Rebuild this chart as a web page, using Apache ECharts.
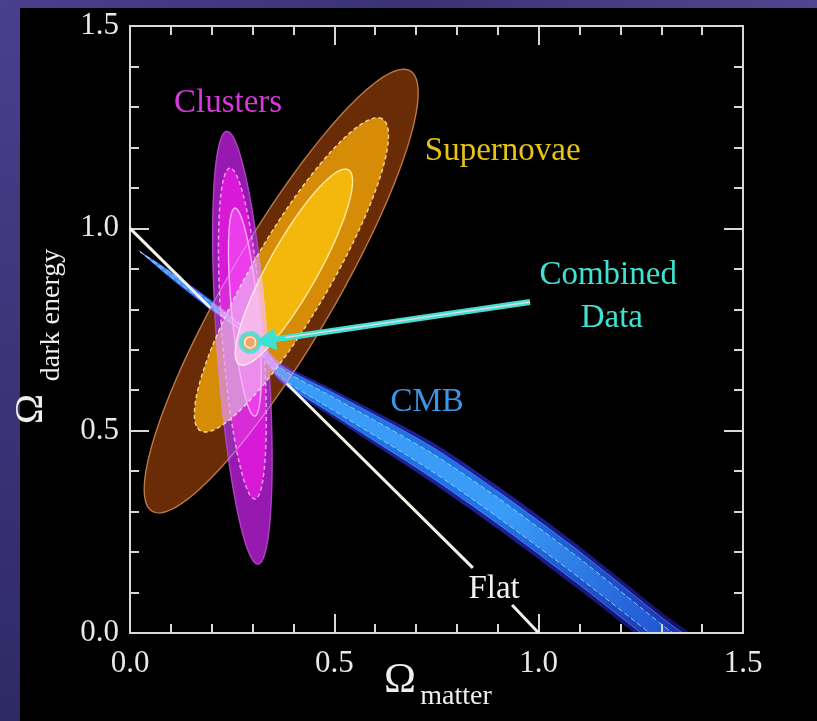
<!DOCTYPE html>
<html><head><meta charset="utf-8">
<script src="https://cdn.jsdelivr.net/npm/echarts@6/dist/echarts.min.js"></script>
<style>html,body{margin:0;padding:0;background:#000}#c{width:817px;height:721px}</style>
</head><body><div id="c"></div>
<script>
// ---- data (data units: Omega_matter, Omega_dark_energy) ----
const xTicks = [0.0, 0.5, 1.0, 1.5];
const yTicks = [0.0, 0.5, 1.0, 1.5];

// ellipse contours: [centerX, centerY, semiMajor, semiMinor, angleDeg]
const supernovaeContours = [
  [0.370, 0.845, 0.629, 0.131, 59.9],
  [0.395, 0.885, 0.445, 0.096, 60.0],
  [0.401, 0.904, 0.275, 0.061, 61.0]
];
const supernovaeFill   = ['#6a2c06', '#d68c06', '#f4b80c'];
const supernovaeStroke = ['#b87848', '#f8d890', '#ffe8a0'];

const clusterContours = [
  [0.275, 0.705, 0.536, 0.062, 94.1],
  [0.275, 0.740, 0.410, 0.050, 94.3],
  [0.281, 0.793, 0.258, 0.032, 95.4]
];
const clusterFill   = ['#961ab0', '#d816d8', '#ec3cec'];
const clusterStroke = ['#b040c0', '#f8a0f8', '#ffb0ff'];

// CMB band: centre line and vertical half-widths of three nested contours
const cmbX      = [0.024, 0.10, 0.20, 0.29, 0.367, 0.50, 0.734, 0.90, 1.10, 1.30, 1.45];
const cmbY      = [0.943, 0.885, 0.809, 0.738, 0.645, 0.565, 0.425, 0.310, 0.160, 0.000, -0.115];
const cmbOuter  = [0.000, 0.010, 0.014, 0.016, 0.025, 0.035, 0.050, 0.053, 0.054, 0.052, 0.046];
const cmbMiddle = [0.000, 0.007, 0.010, 0.011, 0.018, 0.027, 0.038, 0.040, 0.041, 0.039, 0.034];
const cmbInner  = [0.000, 0.004, 0.006, 0.007, 0.011, 0.016, 0.022, 0.024, 0.024, 0.022, 0.019];
const cmbFillBright = ['#1e1e96', '#1c74e4', '#3a9cf6'];
const cmbFillDark   = ['#14106e', '#1c34b0', '#2050d0'];

// flat universe line (hidden under the ellipses, broken around its label)
const flatSegments = [
  [[0, 1], [0.235, 0.765]],
  [[0.345, 0.655], [0.839, 0.161]],
  [[0.935, 0.069], [1, 0]]
];

// combined data point and arrow
const combinedPoint = [0.294, 0.718];
const arrowFrom = [0.979, 0.818];
const arrowTo   = [0.330, 0.722];

// text labels: [text, x, y, colour]
const labels = [
  ['Clusters',   0.240, 1.310, '#d43ad8'],
  ['Supernovae', 0.912, 1.190, '#e8c412'],
  ['Combined',   1.170, 0.884, '#3fe2d2'],
  ['Data',       1.179, 0.778, '#3fe2d2'],
  ['CMB',        0.727, 0.571, '#3a96e6'],
  ['Flat',       0.891, 0.109, '#f2f2f2']
];

// ---------------------------------------------------------------
const SERIF = '"Liberation Serif", "DejaVu Serif", serif';
const chart = echarts.init(document.getElementById('c'), null, {renderer: 'canvas'});

function ellipseRender(fills, strokes, dashes, blendName) {
  return function (params, api) {
    const cx = api.value(0), cy = api.value(1), a = api.value(2), b = api.value(3);
    const ang = api.value(4) * Math.PI / 180;
    const pts = [];
    const N = 160;
    for (let k = 0; k < N; k++) {
      const t = 2 * Math.PI * k / N;
      const dx = a * Math.cos(t), dy = b * Math.sin(t);
      pts.push(api.coord([cx + dx * Math.cos(ang) - dy * Math.sin(ang),
                          cy + dx * Math.sin(ang) + dy * Math.cos(ang)]));
    }
    const i = params.dataIndex;
    const style = {fill: fills[i], stroke: strokes[i], lineWidth: 1.4};
    if (dashes[i]) style.lineDash = [4, 3];
    const el = {type: 'polygon', shape: {points: pts}, style: style};
    if (blendName) el.name = blendName;
    return el;
  };
}

const cmbLevels = [cmbOuter, cmbMiddle, cmbInner];
function cmbRender(params, api) {
  const i = params.dataIndex;
  const hw = cmbLevels[i];
  const upper = [], lower = [];
  for (let k = 0; k < cmbX.length; k++) {
    upper.push(api.coord([cmbX[k], cmbY[k] + hw[k]]));
    lower.push(api.coord([cmbX[k], cmbY[k] - hw[k]]));
  }
  const pts = upper.concat(lower.reverse());
  const p0 = api.coord([cmbX[0], cmbY[0]]);
  const p1 = api.coord([cmbX[cmbX.length - 1], cmbY[cmbY.length - 1]]);
  const fill = new echarts.graphic.LinearGradient(p0[0], p0[1], p1[0], p1[1], [
    {offset: 0, color: cmbFillBright[i]},
    {offset: 0.62, color: cmbFillBright[i]},
    {offset: 0.92, color: cmbFillDark[i]},
    {offset: 1, color: cmbFillDark[i]}
  ], true);
  const style = {fill: fill};
  if (i === 2) { style.stroke = 'rgba(170,215,255,0.8)'; style.lineWidth = 1; style.lineDash = [5, 3]; }
  if (i === 1) { style.stroke = 'rgba(120,170,255,0.5)'; style.lineWidth = 1; }
  return {type: 'polygon', name: 'blend-lighten', shape: {points: pts, smooth: 0.25}, style: style};
}

function labelRender(params, api) {
  const l = labels[params.dataIndex];
  const p = api.coord([l[1], l[2]]);
  return {type: 'text', x: p[0], y: p[1],
    style: {text: l[0], fill: l[3], font: '33px ' + SERIF, align: 'center', verticalAlign: 'middle'}};
}

function axisCommon(extra) {
  return Object.assign({
    type: 'value', min: 0, max: 1.5, interval: 0.5,
    axisLine: {show: true, onZero: false, lineStyle: {color: '#d8d8d8', width: 2}},
    axisTick: {show: true, inside: true, length: 19, lineStyle: {color: '#d8d8d8', width: 2}},
    minorTick: {show: true, splitNumber: 5, length: 9, lineStyle: {color: '#d8d8d8', width: 2}},
    splitLine: {show: false},
    axisLabel: {show: false}
  }, extra);
}
const tickLabel = (margin) => ({show: true, color: '#e8e8e8', fontFamily: SERIF, fontSize: 31, margin: margin,
  formatter: v => v.toFixed(1)});

const option = {
  backgroundColor: '#000',
  animation: false,
  grid: {left: 130, top: 26, right: 74, bottom: 88, containLabel: false},
  xAxis: [
    axisCommon({position: 'bottom', axisLabel: tickLabel(15)}),
    axisCommon({position: 'top'})
  ],
  yAxis: [
    axisCommon({position: 'left', axisLabel: tickLabel(11)}),
    axisCommon({position: 'right'})
  ],
  graphic: [
    {type: 'rect', shape: {x: 0, y: 0, width: 20, height: 721}, z: -10,
     style: {fill: new echarts.graphic.LinearGradient(0, 0, 0, 1, [
       {offset: 0, color: '#4a3f8e'}, {offset: 0.5, color: '#3c3478'}, {offset: 1, color: '#2e2a66'}])}},
    {type: 'rect', shape: {x: 0, y: 0, width: 817, height: 8}, z: -10,
     style: {fill: new echarts.graphic.LinearGradient(0, 0, 1, 0, [
       {offset: 0, color: '#4a3f8e'}, {offset: 0.5, color: '#3a3275'}, {offset: 1, color: '#50468f'}])}},
    {type: 'text', x: 400, y: 681, style: {text: 'Ω', font: '43px ' + SERIF, fill: '#eeeeee', align: 'center', verticalAlign: 'middle'}},
    {type: 'text', x: 456, y: 697, style: {text: 'matter', font: '28px ' + SERIF, fill: '#eeeeee', align: 'center', verticalAlign: 'middle'}},
    {type: 'text', x: 31, y: 409, rotation: Math.PI / 2, style: {text: 'Ω', font: '41px ' + SERIF, fill: '#eeeeee', align: 'center', verticalAlign: 'middle'}},
    {type: 'text', x: 52, y: 315, rotation: Math.PI / 2, style: {text: 'dark energy', font: '28px ' + SERIF, fill: '#eeeeee', align: 'center', verticalAlign: 'middle'}}
  ],
  series: [
    {type: 'lines', coordinateSystem: 'cartesian2d', xAxisIndex: 0, yAxisIndex: 0, z: 1,
     data: flatSegments.map(s => ({coords: s})),
     lineStyle: {color: '#f2f2ea', width: 3, opacity: 1}},
    {type: 'custom', xAxisIndex: 0, yAxisIndex: 0, z: 2, clip: true,
     renderItem: ellipseRender(supernovaeFill, supernovaeStroke, [false, true, false], null),
     data: supernovaeContours, encode: {x: 0, y: 1}},
    {type: 'custom', xAxisIndex: 0, yAxisIndex: 0, z: 3, clip: true,
     renderItem: ellipseRender(clusterFill, clusterStroke, [false, true, false], 'blend-lighten'),
     data: clusterContours, encode: {x: 0, y: 1}},
    {type: 'custom', xAxisIndex: 0, yAxisIndex: 0, z: 4, clip: true,
     renderItem: cmbRender, data: [[cmbX[0], cmbY[0]], [cmbX[1], cmbY[1]], [cmbX[2], cmbY[2]]], encode: {x: 0, y: 1}},
    {type: 'lines', coordinateSystem: 'cartesian2d', xAxisIndex: 0, yAxisIndex: 0, z: 5,
     symbol: ['none', 'triangle'], symbolSize: 22,
     data: [{coords: [arrowFrom, arrowTo]}],
     lineStyle: {color: '#3ee0d2', width: 6, opacity: 1}},
    {type: 'lines', coordinateSystem: 'cartesian2d', xAxisIndex: 0, yAxisIndex: 0, z: 6,
     data: [{coords: [arrowFrom, [arrowTo[0] + 0.05, arrowTo[1] + 0.008]]}],
     lineStyle: {color: '#f4d6e6', width: 1.5, opacity: 0.9}},
    {type: 'scatter', xAxisIndex: 0, yAxisIndex: 0, z: 7, symbol: 'circle', symbolSize: 19,
     data: [combinedPoint],
     itemStyle: {color: '#f2a04a', borderColor: '#34e6d8', borderWidth: 4}},
    {type: 'scatter', xAxisIndex: 0, yAxisIndex: 0, z: 8, symbol: 'circle', symbolSize: 11,
     data: [combinedPoint], silent: true,
     itemStyle: {color: 'rgba(0,0,0,0)', borderColor: '#ffffff', borderWidth: 1.5}},
    {type: 'custom', xAxisIndex: 0, yAxisIndex: 0, z: 9, clip: false,
     renderItem: labelRender, data: labels.map(l => [l[1], l[2]]), encode: {x: 0, y: 1}}
  ]
};
chart.setOption(option);

// apply "lighten" compositing to overlapping confidence regions
function applyBlend() {
  const zr = chart.getZr();
  zr.storage.getDisplayList(true).forEach(function (el) {
    if (el.name === 'blend-lighten' || (el.parent && el.parent.name === 'blend-lighten')) {
      el.style.blend = 'lighten';
      el.markRedraw();
    }
  });
  zr.refreshImmediately();
}
applyBlend();
chart.on('finished', function () {
  const zr = chart.getZr();
  let need = false;
  zr.storage.getDisplayList(true).forEach(function (el) {
    if (el.name === 'blend-lighten' && el.style.blend !== 'lighten') need = true;
  });
  if (need) applyBlend();
});
</script></body></html>
